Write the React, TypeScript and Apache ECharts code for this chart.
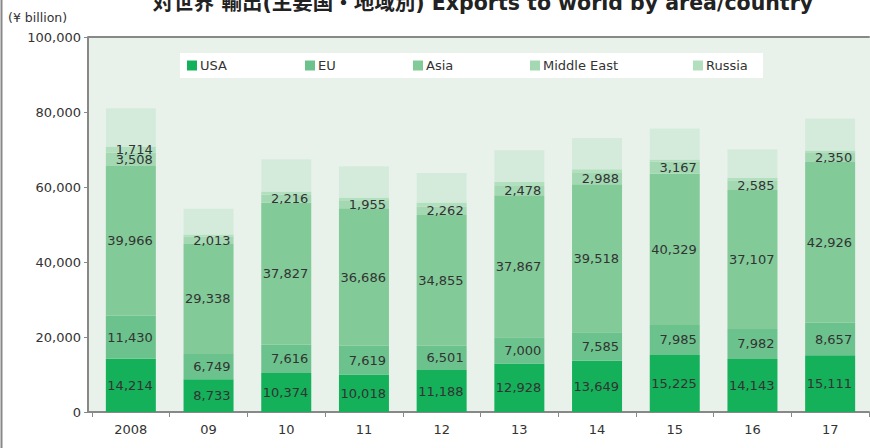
import React, { useEffect, useRef } from "react";
import * as echarts from "echarts";

const years = ["2008", "09", "10", "11", "12", "13", "14", "15", "16", "17"];
const usa = [14214, 8733, 10374, 10018, 11188, 12928, 13649, 15225, 14143, 15111];
const eu = [11430, 6749, 7616, 7619, 6501, 7000, 7585, 7985, 7982, 8657];
const asia = [39966, 29338, 37827, 36686, 34855, 37867, 39518, 40329, 37107, 42926];
const middleEast = [3508, 2013, 2216, 1955, 2262, 2478, 2988, 3167, 2585, 2350];
const russia = [1714, 490, 770, 940, 1050, 1080, 980, 620, 550, 660];
const others = [10186, 6848, 8597, 8328, 7892, 8421, 8373, 8288, 7669, 8582];
const yTicks = [0, 20000, 40000, 60000, 80000, 100000];

const FONT = "'DejaVu Sans', 'Noto Sans CJK JP', sans-serif";
const fmt = (v: number) => Number(v).toLocaleString("en-US");

export default function App() {
  const ref = useRef<HTMLDivElement>(null);
  useEffect(() => {
    if (!ref.current) return;
    const chart = echarts.init(ref.current, null, { renderer: "svg" });
    const label = {
      show: true,
      position: "insideRight" as const,
      distance: 3,
      color: "#333",
      fontSize: 13,
      fontFamily: FONT,
      formatter: (p: any) => fmt(p.value),
    };
    const mk = (name: string, data: any[], color: string, showLabel: boolean) => ({
      name,
      type: "bar",
      stack: "total",
      barWidth: 50,
      data,
      itemStyle: { color },
      label: showLabel ? label : { show: false },
      emphasis: { disabled: true },
    });
    const legendItems = [
      { name: "USA", left: 187 },
      { name: "EU", left: 305 },
      { name: "Asia", left: 413 },
      { name: "Middle East", left: 530 },
      { name: "Russia", left: 693 },
    ];
    const russiaData = russia.map((v, i) => (i === 0 ? { value: v, label } : v));
    chart.setOption({
      animation: false,
      textStyle: { fontFamily: FONT },
      title: {
        text: "対世界 輸出(主要国・地域別) Exports to world by area/country",
        left: 478,
        textAlign: "center",
        top: -12,
        textStyle: { fontSize: 20.5, fontWeight: "bold", color: "#222", fontFamily: FONT },
      },
      graphic: [
        {
          type: "rect",
          shape: { x: 88, y: 37, width: 782, height: 375 },
          style: { fill: "#e8f2eb" },
          z: -10,
          silent: true,
        },
        {
          type: "line",
          shape: { x1: 88, y1: 412, x2: 93, y2: 412 },
          style: { stroke: "#888", lineWidth: 2 },
          z: 10,
        },
        {
          type: "line",
          shape: { x1: 88, y1: 37, x2: 93, y2: 37 },
          style: { stroke: "#888", lineWidth: 2 },
          z: 10,
        },
        {
          type: "rect",
          shape: { x: 180, y: 53, width: 583, height: 25 },
          style: { fill: "#ffffff" },
          z: 5,
        },
        {
          type: "text",
          left: 8,
          top: 11,
          style: { text: "(¥ billion)", fontSize: 12.5, fill: "#333", fontFamily: FONT },
        },
        {
          type: "line",
          shape: { x1: 1.5, y1: 0, x2: 1.5, y2: 448 },
          style: { stroke: "#888", lineWidth: 2 },
        },
      ],
      legend: legendItems.map((l) => ({
        data: [l.name],
        left: l.left,
        top: 59,
        itemWidth: 10,
        itemHeight: 10,
        itemGap: 0,
        icon: "rect",
        padding: 0,
        selectedMode: false,
        z: 10,
        textStyle: { fontSize: 13, color: "#333", fontFamily: FONT, padding: [0, 0, 0, -2] },
      })),
      grid: {
        left: 92,
        right: 1,
        top: 37,
        bottom: 36,
      },
      xAxis: [
        {
          type: "category",
          data: years,
          axisLine: { lineStyle: { color: "#888", width: 2 } },
          axisTick: { show: true, length: 5, lineStyle: { color: "#888", width: 1 } },
          axisLabel: { color: "#333", fontSize: 13, margin: 11, fontFamily: FONT },
        },
        {
          type: "category",
          data: years,
          position: "top",
          axisLine: { lineStyle: { color: "#888", width: 2 } },
          axisTick: { show: false },
          axisLabel: { show: false },
        },
      ],
      yAxis: {
        type: "value",
        min: yTicks[0],
        max: yTicks[yTicks.length - 1],
        interval: 20000,
        offset: 4,
        axisLine: { show: true, lineStyle: { color: "#888", width: 2 } },
        axisTick: { show: true, length: 4, lineStyle: { color: "#888" } },
        splitLine: { show: false },
        axisLabel: {
          color: "#333",
          fontSize: 13,
          margin: 7,
          fontFamily: FONT,
          formatter: (v: number) => fmt(v),
        },
      },
      series: [
        mk("USA", usa, "#15b05a", true),
        mk("EU", eu, "#6cc28c", true),
        mk("Asia", asia, "#82ca98", true),
        mk("Middle East", middleEast, "#a3d8b3", true),
        mk("Russia", russiaData, "#b2dfbe", false),
        mk("Others", others, "#d4ebdc", false),
      ],
    });
    return () => chart.dispose();
  }, []);
  return <div ref={ref} style={{ width: 870, height: 448, position: "absolute", left: 0, top: 0 }} />;
}
